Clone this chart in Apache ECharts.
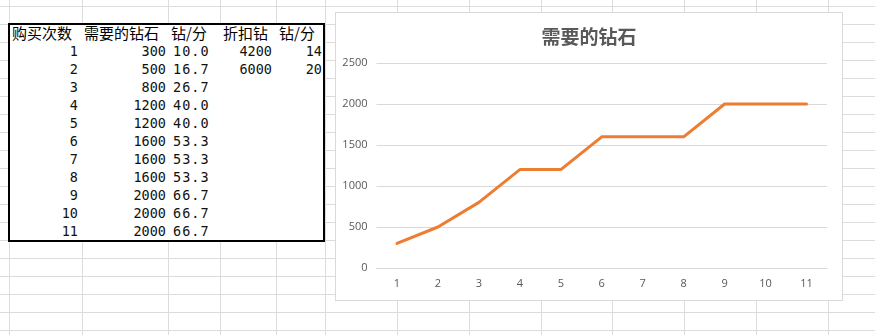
<!DOCTYPE html>
<html>
<head>
<meta charset="utf-8">
<script src="https://cdn.jsdelivr.net/npm/echarts@6/dist/echarts.min.js"></script>
<style>
  html, body { margin: 0; padding: 0; background: #fff; }
  #sheet { position: relative; width: 875px; height: 335px; overflow: hidden; background: #fff; }
  .vl { position: absolute; top: 0; width: 1px; height: 335px; background: #dcdcdc; }
  .hl { position: absolute; left: 0; height: 1px; width: 875px; background: #dcdcdc; }
  #tbl { position: absolute; left: 8px; top: 23px; width: 317px; height: 219px; box-sizing: border-box;
         border: 2px solid #000; background: #fff; }
  .cell { position: absolute; height: 18px; line-height: 18px; color: #000; white-space: nowrap; }
  .zh { font-family: "Noto Sans CJK SC", sans-serif; font-size: 15px; }
  .num { font-family: "DejaVu Sans Mono", monospace; font-size: 13.5px; color: #111; }
  #chartBox { position: absolute; left: 335px; top: 12px; width: 508px; height: 289px; box-sizing: border-box;
              border: 1px solid #d9d9d9; background: #fff; }
  #chart { width: 506px; height: 287px; }
</style>
</head>
<body>
<div id="sheet">
  <div id="tbl"></div>
  <div id="chartBox"><div id="chart"></div></div>
</div>
<script>
// ---- data ----
const headers = ["购买次数", "需要的钻石", "钻/分", "折扣钻", "钻/分"];
const purchaseCounts = ["1", "2", "3", "4", "5", "6", "7", "8", "9", "10", "11"];
const diamondsNeeded = [300, 500, 800, 1200, 1200, 1600, 1600, 1600, 2000, 2000, 2000];
const diamondsPerMin = ["10.0", "16.7", "26.7", "40.0", "40.0", "53.3", "53.3", "53.3", "66.7", "66.7", "66.7"];
const discountDiamonds = ["4200", "6000"];
const discountPerMin = ["14", "20"];
const chartTitle = "需要的钻石";
const yTicks = [0, 500, 1000, 1500, 2000, 2500];

// ---- spreadsheet grid ----
const sheet = document.getElementById('sheet');
const colLines = [9, 82, 168, 220, 276, 325, 397, 469, 541, 612, 684, 756, 828];
colLines.forEach(x => {
  const d = document.createElement('div'); d.className = 'vl'; d.style.left = x + 'px'; sheet.insertBefore(d, sheet.firstChild);
});
for (let y = 6; y < 335; y += 18) {
  const d = document.createElement('div'); d.className = 'hl'; d.style.top = y + 'px'; sheet.insertBefore(d, sheet.firstChild);
}

// ---- table ----
const tbl = document.getElementById('tbl');
const ox = 10, oy = 25; // inner origin of table box (page coords)
function addCell(text, cls, top, opts) {
  const d = document.createElement('div');
  d.className = 'cell ' + cls;
  d.textContent = text;
  d.style.top = (top - oy) + 'px';
  if (opts.left !== undefined) d.style.left = (opts.left - ox) + 'px';
  if (opts.right !== undefined) { d.style.left = 'auto'; d.style.right = (325 - 2 - opts.right) + 'px'; }
  if (opts.ls) d.style.letterSpacing = opts.ls;
  tbl.appendChild(d);
}
const headerLeft = [12, 84, 171, 223, 279];
headers.forEach((h, i) => addCell(h, 'zh', 24, { left: headerLeft[i] }));
purchaseCounts.forEach((v, i) => {
  const top = 42 + 18 * i;
  addCell(v, 'num', top, { right: 78 });
  addCell(String(diamondsNeeded[i]), 'num', top, { right: 166 });
  addCell(diamondsPerMin[i], 'num', top, { left: 173, ls: '1px' });
  if (i < discountDiamonds.length) {
    addCell(discountDiamonds[i], 'num', top, { right: 272 });
    addCell(discountPerMin[i], 'num', top, { right: 322 });
  }
});

// ---- chart ----
const chart = echarts.init(document.getElementById('chart'), null, { renderer: 'canvas' });
chart.setOption({
  animation: false,
  backgroundColor: '#fff',
  title: {
    text: chartTitle, left: 'center', top: 9,
    textStyle: { fontFamily: '"Noto Sans CJK SC", sans-serif', fontSize: 19, fontWeight: 'bold', color: '#595959' }
  },
  grid: { left: 40.5, right: 15, top: 50, bottom: 32, containLabel: false },
  xAxis: {
    type: 'category',
    data: purchaseCounts,
    boundaryGap: true,
    axisLine: { lineStyle: { color: '#d9d9d9', width: 1 } },
    axisTick: { show: false },
    axisLabel: { color: '#595959', fontSize: 11, margin: 10, fontFamily: '"Open Sans", sans-serif' }
  },
  yAxis: {
    type: 'value',
    min: yTicks[0], max: yTicks[yTicks.length - 1], interval: 500,
    axisLine: { show: false },
    axisTick: { show: false },
    splitLine: { lineStyle: { color: '#d9d9d9', width: 1 } },
    axisLabel: { color: '#595959', fontSize: 11, margin: 9, fontFamily: '"Open Sans", sans-serif',
                 formatter: v => String(v) }
  },
  series: [{
    type: 'line',
    data: diamondsNeeded,
    showSymbol: false,
    symbol: 'none',
    lineStyle: { color: '#ED7D31', width: 3, cap: 'round', join: 'round' },
    itemStyle: { color: '#ED7D31' }
  }]
});
</script>
</body>
</html>
